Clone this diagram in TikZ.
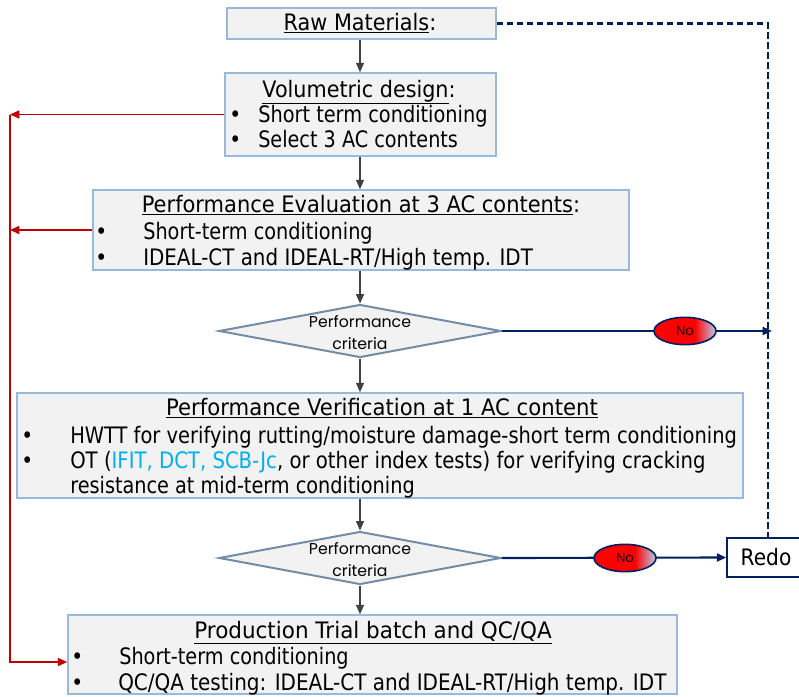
\documentclass[tikz,border=0pt]{standalone}
\usepackage{fontspec}
\setmainfont{DejaVu Sans}[FakeStretch=0.89]
\newfontfamily\gothic{Poppins}
\usetikzlibrary{arrows.meta,shapes.geometric,fit}
\definecolor{boxfill}{RGB}{242,242,242}
\definecolor{boxborder}{RGB}{150,185,220}
\definecolor{diaborder}{RGB}{115,140,165}
\definecolor{navy}{RGB}{0,32,96}
\definecolor{redc}{RGB}{192,0,0}
\definecolor{cyanc}{RGB}{0,176,240}
\definecolor{lblue}{RGB}{185,205,235}
\pgfdeclarehorizontalshading{noshade}{100bp}{color(0bp)=(red); color(25bp)=(red); color(58bp)=(red); color(75bp)=(lblue); color(100bp)=(lblue)}
\newcommand{\mainsz}{\fontsize{17pt}{20pt}\selectfont}
\newcommand{\smsz}{\gothic\fontsize{11.8pt}{14pt}\selectfont}
\newcommand{\nosz}{\gothic\fontsize{10pt}{12pt}\selectfont}
\newcommand{\sx}[2]{\scalebox{#1}[1]{#2}}
\begin{document}
\begin{tikzpicture}[x=0.75pt,y=-0.75pt,
  box/.style={draw=boxborder, fill=boxfill, line width=1.2pt, inner sep=0pt},
  dia/.style={diamond, draw=diaborder, fill=boxfill, line width=1.5pt, inner sep=0pt, minimum width=211.5pt, minimum height=39.75pt},
  txt/.style={inner sep=0pt, anchor=base west, font=\mainsz},
  ttl/.style={inner sep=0pt, anchor=base, font=\mainsz},
  dtxt/.style={inner sep=0pt, anchor=base, font=\smsz},
  blk/.style={draw=black!75, line width=0.8pt, -{Triangle[length=7pt,width=6pt]}},
  redarr/.style={draw=redc, line width=1.2pt, -{Triangle[length=7pt,width=6pt]}},
  navyarr/.style={draw=navy, line width=1.6pt, -{Triangle[length=7pt,width=6pt]}},
  noell/.style={ellipse, draw=navy, line width=1.2pt, shade, shading=noshade, minimum width=46.5pt, minimum height=20.5pt, inner sep=0pt, font=\nosz},
]
\useasboundingbox (0,0) rectangle (799,696);

% boxes
\node[box, fit={(227,8) (496,39)}] (raw) {};
\node[box, fit={(225,73) (496,156)}] (vol) {};
\node[box, fit={(93,190) (629,270)}] (perf) {};
\node[dia] (d1) at (360,331) {};
\node[box, fit={(17,393) (743,498)}] (ver) {};
\node[dia] (d2) at (360,558) {};
\node[box, fit={(68,615) (677,694)}] (prod) {};
\node[draw=navy, fill=white, line width=1.2pt, inner sep=0pt, fit={(727,538) (805,577)}] (redo) {};

% texts
\node[ttl] (rawt) at (360,30) {\sx{1.03}{\underline{Raw Materials}:}};

\node[ttl] (volt) at (359,97) {\sx{1.027}{\underline{Volumetric design}:}};
\node[txt] (volb1) at (229,122) {•};
\node[txt] (vol1) at (258,122) {\sx{0.958}{Short term conditioning}};
\node[txt] (volb2) at (229,147) {•};
\node[txt] (vol2) at (258,147) {\sx{0.953}{Select 3 AC contents}};

\node[ttl] (perft) at (361,212) {\sx{1.04}{\underline{Performance Evaluation at 3 AC contents}:}};
\node[txt] (perfb1) at (95,239) {•};
\node[txt] (perf1) at (143,239) {\sx{0.955}{Short-term conditioning}};
\node[txt] (perfb2) at (95,265) {•};
\node[txt] (perf2) at (143,265) {\sx{0.985}{IDEAL-CT and IDEAL-RT/High temp. IDT}};

\node[dtxt] (d1a) at (360,327) {Performance};
\node[dtxt] (d1b) at (360,349) {criteria};

\node[ttl] (vert) at (382,415) {\sx{1.05}{\underline{Performance Verification at 1 AC content}}};
\node[txt] (verb1) at (21,443) {•};
\node[txt] (ver1) at (70,443) {\sx{0.964}{HWTT for verifying rutting/moisture damage-short term conditioning}};
\node[txt] (verb2) at (21,468) {•};
\node[txt] (ver2) at (70,468) {\sx{0.975}{OT (\textcolor{cyanc}{IFIT, DCT, SCB-Jc}, or other index tests) for verifying cracking}};
\node[txt] (ver3) at (70,493) {\sx{0.955}{resistance at mid-term conditioning}};

\node[dtxt] (d2a) at (360,554) {Performance};
\node[dtxt] (d2b) at (360,576) {criteria};

\node[ttl] (prodt) at (373,638) {\sx{1.065}{\underline{Production Trial batch and QC/QA}}};
\node[txt] (prodb1) at (71,664) {•};
\node[txt] (prod1) at (119,664) {\sx{0.955}{Short-term conditioning}};
\node[txt] (prodb2) at (71,690) {•};
\node[txt] (prod2) at (118,690) {\sx{0.99}{QC/QA testing: IDEAL-CT and IDEAL-RT/High temp. IDT}};

\node[inner sep=0pt, font=\mainsz] (redot) at (766,557) {Redo};

% vertical flow
\coordinate (X) at (360,0);
\draw[blk] (raw.south -| X) -- (vol.north -| X);
\draw[blk] (vol.south -| X) -- (perf.north -| X);
\draw[blk] (perf.south -| X) -- (d1.north);
\draw[blk] (d1.south) -- (ver.north -| X);
\draw[blk] (ver.south -| X) -- (d2.north);
\draw[blk] (d2.south) -- (prod.north -| X);

% red feedback
\coordinate (r1) at (10,115);
\coordinate (r3) at (10,662);
\draw[redarr] (vol.west) -- (vol.west -| r1);
\draw[redarr] (perf.west) -- (perf.west -| r1);
\draw[redarr] (vol.west -| r1) -- (r3) -- (prod.west |- r3);

% dashed navy
\coordinate (dtop) at (768,23.5);
\coordinate (dbot) at (768,538);
\draw[navy, line width=2pt, dash pattern=on 5pt off 2.5pt] (raw.east) -- (dtop) -- (dbot);

% No branches
\coordinate (hit1) at (772,331);
\draw[navyarr] (d1.east) -- (hit1);
\node[noell] (no1) at (685,331) {No};
\draw[navyarr] (d2.east) -- (redo.west);
\node[noell] (no2) at (625,558) {No};
\end{tikzpicture}
\end{document}
